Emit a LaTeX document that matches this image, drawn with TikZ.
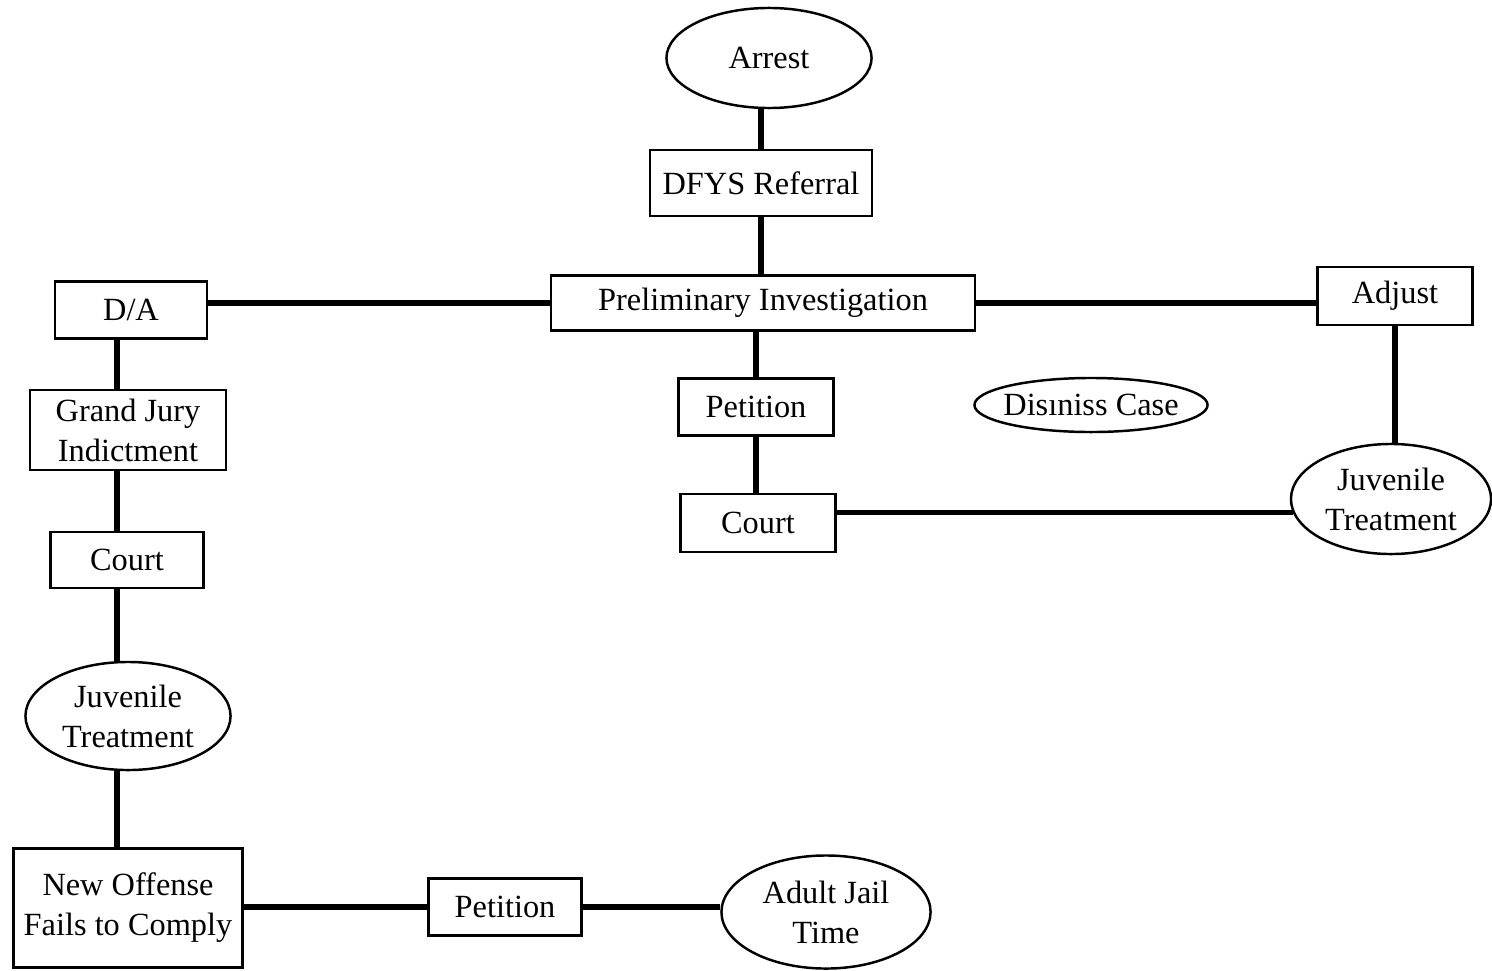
\documentclass[tikz,border=0pt]{standalone}
\usepackage{fontspec}
\setmainfont{Liberation Serif}
\usepackage{tikz}
\usetikzlibrary{shapes.geometric}

\begin{document}
\begin{tikzpicture}[x=0.01cm, y=-0.01cm,
    box/.style={draw, line width=0.7pt, inner sep=0pt, align=center, font=\fontsize{9.2}{11.4}\selectfont},
    oval/.style={box, ellipse},
    link/.style={line width=1.5pt}]
    \useasboundingbox (0,0) rectangle (1492,970);
    \coordinate (spine) at (117,0);

    \node[oval, minimum width=2.05cm, minimum height=1.00cm] (arrest) at (769,58) {Arrest};
    \node[box, minimum width=2.22cm, minimum height=0.66cm] (dfys) at (761,183) {DFYS Referral};
    \node[box, minimum width=4.24cm, minimum height=0.55cm] (prelim) at (763,303) {Preliminary Investigation};
    \node[box, minimum width=1.52cm, minimum height=0.57cm] (da) at (131,310) {D/A};
    \node[box, minimum width=1.55cm, minimum height=0.58cm] (adjust) at (1395,296) {Adjust};

    % middle branch
    \node[box, minimum width=1.55cm, minimum height=0.57cm] (petA) at (756,407) {Petition};
    \node[box, minimum width=1.55cm, minimum height=0.58cm] (courtA) at (758,523) {Court};
    \node[oval, inner xsep=-1.5pt, minimum width=2.33cm, minimum height=0.54cm] (dismiss) at (1091,405) {Disıniss Case};
    \node[oval, minimum width=2.00cm, minimum height=1.10cm] (juvA) at (1391,499) {Juvenile\\Treatment};

    % left branch
    \node[box, minimum width=1.96cm, minimum height=0.80cm] (grand) at (128,430) {Grand Jury\\Indictment};
    \node[box, minimum width=1.53cm, minimum height=0.56cm] (courtB) at (127,560) {Court};
    \node[oval, minimum width=2.05cm, minimum height=1.08cm] (juvB) at (128,716) {Juvenile\\Treatment};
    \node[box, minimum width=2.29cm, minimum height=1.19cm] (offense) at (128,908) {New Offense\\Fails to Comply};
    \node[box, minimum width=1.53cm, minimum height=0.57cm] (petB) at (505,907) {Petition};
    \node[oval, minimum width=2.09cm, minimum height=1.13cm] (jail) at (826,912) {Adult Jail\\Time};

    \draw[link] (dfys.north) -- (dfys.north |- arrest.south);
    \draw[link] (dfys.south) -- (dfys.south |- prelim.north);
    \draw[link] (prelim.west) -- (prelim.west -| da.east); % to D/A
    \draw[link] (prelim.east) -- (prelim.east -| adjust.west); % to adjust
    \draw[link] (adjust.south) -- (adjust.south |- juvA.north);
    \draw[link] (petA.north) -- (petA.north |- prelim.south);
    \draw[link] (petA.south) -- (petA.south |- courtA.north);
    \draw[link] (juvA.188) -- (juvA.188 -| courtA.east);

    \draw[link] (spine |- da.south) -- (spine |- grand.north);
    \draw[link] (spine |- grand.south) -- (spine |- courtB.north);
    \draw[link] (spine |- courtB.south) -- (spine |- juvB.north);
    \draw[link] (spine |- juvB.south) -- (spine |- offense.north);
    \draw[link] (petB.west) -- (petB.west -| offense.east);
    \draw[link] (petB.east) -- (petB.east -| jail.west);
\end{tikzpicture}
\end{document}
